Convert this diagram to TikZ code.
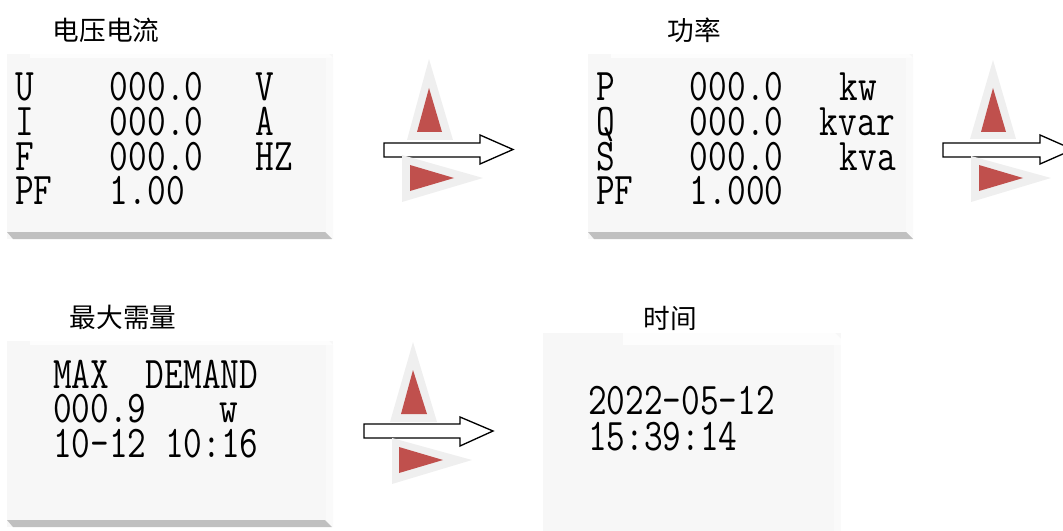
\documentclass[tikz,border=0pt]{standalone}
\usepackage{fontspec}
\usepackage{graphicx}
\newfontfamily\cjk{Noto Sans CJK SC}
\definecolor{panelgray}{HTML}{F7F7F7}
\definecolor{topgray}{HTML}{FDFDFD}
\definecolor{sidegray}{HTML}{FAFAFA}
\definecolor{bevelgray}{HTML}{C0C0C0}
\definecolor{halogray}{HTML}{EFEFEF}
\definecolor{trired}{HTML}{C0504D}
% horizontally condensed typewriter text, as on an LCD
\newcommand\lcd[1]{\scalebox{0.8}[1]{\ttfamily\fontsize{34}{40}\selectfont #1}}
% a column of given width in reference pixels (undoing the 0.8 squeeze)
\newcommand\wpx[2]{\makebox[\dimexpr #1pt*15/16\relax][l]{#2}}
% lines stacked at a fixed baseline distance (in pt)
\newcommand\lcdlines[2]{\vtop{\baselineskip=#1pt\lineskiplimit=-100pt\lineskip=0pt #2}}
\tikzset{
  panelbody/.style={fill=panelgray,draw=none},
  topband/.style={fill=topgray,draw=none},
  sideband/.style={fill=sidegray,draw=none},
  bottomband/.style={fill=bevelgray,draw=none},
  halo/.style={fill=halogray,draw=none},
  redtri/.style={fill=trired,draw=none},
  blockarrow/.style={draw=black,fill=white,line width=1pt,line join=miter},
  lcdtext/.style={anchor=base west,inner sep=0pt,outer sep=0pt},
  title/.style={inner sep=0pt,font=\cjk\fontsize{20}{24}\selectfont}
}
\begin{document}
\begin{tikzpicture}[x=0.75pt,y=-0.75pt]
\useasboundingbox (0,0) rectangle (1063,531);
\clip (0,0) rectangle (1063,531);

% ---------- panel 1 ----------
\node[title] (t1) at (106,30) {电压电流};
\path[panelbody] (7,54) rectangle (333,239);
\path[topband] (30,54) -- (329,54) -- (333,58) -- (30,58) -- cycle;
\path[sideband] (326,58) -- (333,58) -- (333,239) -- (326,232) -- cycle;
\path[bottomband] (7,232) -- (325,232) -- (332,239) -- (13,239) -- cycle;
\node[lcdtext] (p1) at (15,101) {\lcd{\lcdlines{26}{%
  \hbox{\wpx{95}{U}\wpx{146}{000.0}V}
  \hbox{\wpx{95}{I}\wpx{146}{000.0}A}
  \hbox{\wpx{95}{F}\wpx{146}{000.0}HZ}
  \hbox{\wpx{95}{PF}1.00}}}};

% ---------- panel 2 ----------
\node[title] (t2) at (694,30) {功率};
\path[panelbody] (588,54) rectangle (913,239);
\path[topband] (611,54) -- (909,54) -- (913,58) -- (611,58) -- cycle;
\path[sideband] (906,58) -- (913,58) -- (913,239) -- (906,232) -- cycle;
\path[bottomband] (588,232) -- (906,232) -- (913,239) -- (594,239) -- cycle;
\node[lcdtext] (p2) at (596,101) {\lcd{\lcdlines{26}{%
  \hbox{\wpx{94}{P}\wpx{150}{000.0}kw}
  \hbox{\wpx{94}{Q}\wpx{130}{000.0}kvar}
  \hbox{\wpx{94}{S}\wpx{150}{000.0}kva}
  \hbox{\wpx{94}{PF}1.000}}}};

% ---------- panel 3 ----------
\node[title] (t3) at (123,317) {最大需量};
\path[panelbody] (7,341) rectangle (333,527);
\path[topband] (30,341) -- (329,341) -- (333,345) -- (30,345) -- cycle;
\path[sideband] (326,345) -- (333,345) -- (333,527) -- (326,520) -- cycle;
\path[bottomband] (7,520) -- (325,520) -- (332,527) -- (13,527) -- cycle;
\node[lcdtext] (p3) at (53,388) {\lcd{\lcdlines{25.9}{%
  \hbox{\wpx{93}{MAX}DEMAND}
  \hbox{\wpx{167}{000.9}w}
  \hbox{10-12 10:16}}}};

% ---------- panel 4 ----------
\node[title] (t4) at (670,318) {时间};
\path[panelbody] (543,333) rectangle (841,545);
\path[topband] (623,333) -- (835,333) -- (841,339) -- (841,345) -- (623,345) -- cycle;
\path[sideband] (834,345) -- (841,345) -- (841,545) -- (834,545) -- cycle;
\node[lcdtext] (p4) at (588,414) {\lcd{\lcdlines{27}{%
  \hbox{2022-05-12}
  \hbox{15:39:14}}}};

% ---------- sign group 1 ----------
\path[halo] (429,59) -- (453,140) -- (407,140) -- cycle;
\path[redtri] (429,88) -- (442,132) -- (417,132) -- cycle;
\draw[blockarrow] (384,143) -- (480,143) -- (480,135) -- (513,149.5) -- (480,164) -- (480,157) -- (384,157) -- cycle;
\path[halo] (402,155) -- (483,178) -- (402,202) -- cycle;
\path[redtri] (410,165) -- (454,178) -- (410,191) -- cycle;

% ---------- sign group 2 ----------
\path[halo] (993,60) -- (1016,139) -- (970,139) -- cycle;
\path[redtri] (993,88) -- (1006,132) -- (981,132) -- cycle;
\draw[blockarrow] (943,143) -- (1040,143) -- (1040,135) -- (1073,149.5) -- (1040,164) -- (1040,157) -- (943,157) -- cycle;
\path[halo] (971,156) -- (1051,178) -- (971,202) -- cycle;
\path[redtri] (979,165) -- (1023,178) -- (979,191) -- cycle;

% ---------- sign group 3 ----------
\path[halo] (413,342) -- (437,422) -- (390,422) -- cycle;
\path[redtri] (413,370) -- (427,414) -- (401,414) -- cycle;
\draw[blockarrow] (364,424) -- (460,424) -- (460,417) -- (493,431) -- (460,446) -- (460,438) -- (364,438) -- cycle;
\path[halo] (392,438) -- (472,460) -- (392,484) -- cycle;
\path[redtri] (399,447) -- (443,460) -- (399,473) -- cycle;
\end{tikzpicture}
\end{document}
